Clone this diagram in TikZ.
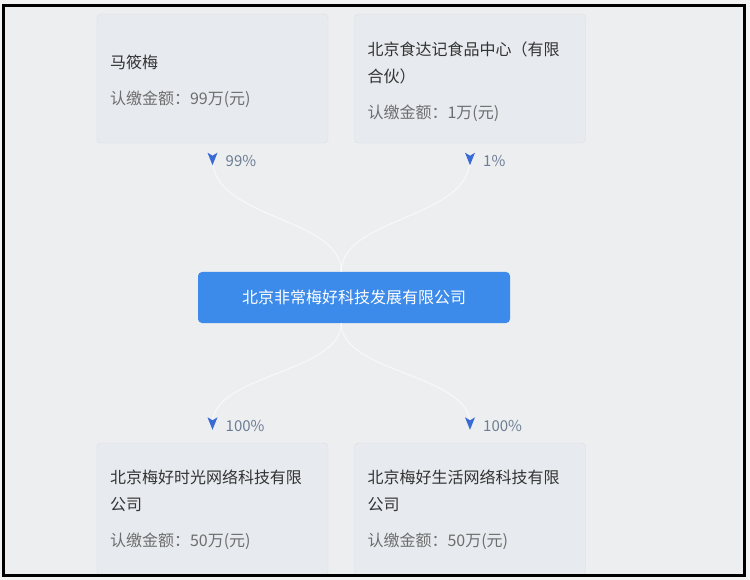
\documentclass[tikz,border=0pt]{standalone}
\usepackage{fontspec}
\newfontfamily\cjk{Noto Sans CJK SC}
\usepackage[svgnames]{xcolor}
\usetikzlibrary{calc,positioning}
\definecolor{OuterGray}{HTML}{F3F3F3}
\definecolor{PageGray}{HTML}{EDEEF0}
\definecolor{CardGray}{HTML}{E7EAEE}
\definecolor{CardLine}{HTML}{D9DEE4}
\definecolor{FirmBlue}{HTML}{3C8AE9}
\definecolor{PointerBlue}{HTML}{3A6BD4}
\definecolor{ShareGray}{HTML}{6C7D94}
\definecolor{NameGray}{HTML}{333333}
\definecolor{SumGray}{HTML}{6E6E6E}
\tikzset{
	holder/.style = {draw=CardLine, fill=CardGray, rounded corners=4pt,
		minimum width=231pt, minimum height=129pt, text width=205pt,
		inner xsep=13pt, align=left, text=NameGray,
		font=\cjk\fontsize{16pt}{27pt}\selectfont},
	upper holder/.style = {holder, execute at begin node={\rule{0pt}{20pt}}},
	lower holder/.style = {holder, minimum height=133pt},
	firmbox/.style = {fill=FirmBlue, rounded corners=4pt, text=white,
		minimum width=312pt, minimum height=51pt,
		font=\cjk\fontsize{16pt}{20pt}\selectfont},
	share/.style = {text=ShareGray, inner sep=1pt, yshift=-2pt,
		font=\cjk\fontsize{15pt}{18pt}\selectfont},
	flow/.style = {draw=white, line width=1.2pt, opacity=.55},
	pointer/.pic = {
		\fill[PointerBlue] (0pt,-6pt) -- (-5pt,6.5pt) -- (0pt,3.5pt) -- (5pt,6.5pt) -- cycle;
	}
}
\newcommand{\sumline}[1]{\\[9pt]{\color{SumGray}认缴金额：#1}}

\begin{document}
\begin{tikzpicture}[x=1pt,y=-1pt]
	\useasboundingbox (0,0) rectangle (750,580);
	\fill[OuterGray] (0,0) rectangle (750,580);
	\fill[PageGray] (3.5,5.5) rectangle (744,575.5);

	% shareholders
	\node[upper holder] (own1) at (212.5,78.5) {马筱梅\sumline{99万(元)}};
	\node[upper holder] (own2) at (470,78.5) {北京食达记食品中心（有限\\合伙）\sumline{1万(元)}};
	% the company
	\node[firmbox] (firm) at (354,297.5) {北京非常梅好科技发展有限公司};
	% subsidiaries
	\node[lower holder] (sub1) at (212.5,509.5) {北京梅好时光网络科技有限\\公司\sumline{50万(元)}};
	\node[lower holder] (sub2) at (470,509.5) {北京梅好生活网络科技有限\\公司\sumline{50万(元)}};

	\coordinate[below=16pt of own1] (m1);
	\coordinate[below=16pt of own2] (m2);
	\coordinate[above=19pt of sub1] (m3);
	\coordinate[above=19pt of sub2] (m4);
	\coordinate (mid) at ($(m1)!.5!(m2)$);
	\coordinate (jin) at (mid |- firm.north);
	\coordinate (jout) at (mid |- firm.south);

	\draw[flow] (m1) .. controls +(0,60) and +(0,-55) .. (jin);
	\draw[flow] (m2) .. controls +(0,60) and +(0,-55) .. (jin);
	\draw[flow] (jout) .. controls +(0,50) and +(0,-50) .. (m3);
	\draw[flow] (jout) .. controls +(0,50) and +(0,-50) .. (m4);

	\pic at (m1) {pointer};
	\pic at (m2) {pointer};
	\pic at (m3) {pointer};
	\pic at (m4) {pointer};
	\node[share, right=12pt of m1] (s1) {99\%};
	\node[share, right=12pt of m2] (s2) {1\%};
	\node[share, right=12pt of m3] (s3) {100\%};
	\node[share, right=12pt of m4] (s4) {100\%};

	\draw[line width=3pt] (3.5,5.5) rectangle (744,575.5);
\end{tikzpicture}
\end{document}
